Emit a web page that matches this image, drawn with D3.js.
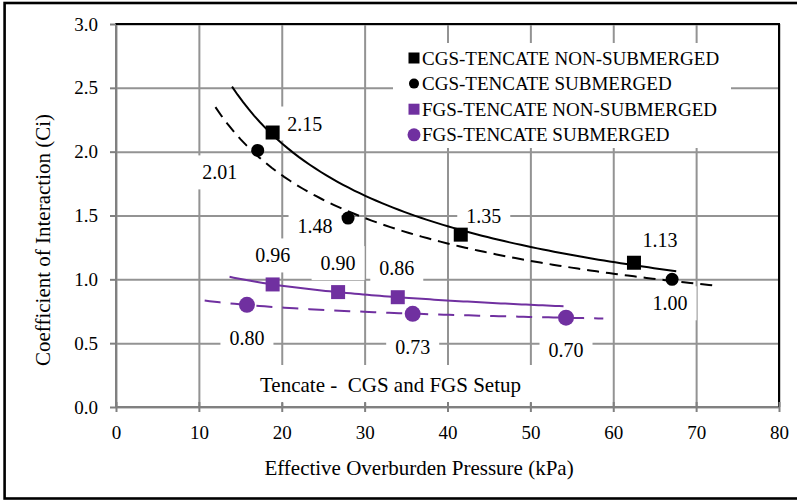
<!DOCTYPE html>
<meta charset="utf-8">
<style>

body {
  margin: 0;
  background: #fff;
}

svg {
  display: block;
  font-family: 'Liberation Serif', 'Times New Roman', serif;
}

.grid line {
  stroke: #939393;
  stroke-width: 2;
}

.grid path, .axis path {
  display: none;
}

.axis line {
  stroke: #808080;
  stroke-width: 2;
}

.axis text {
  font-size: 19px;
  fill: #000;
}

.legend {
  font-size: 19px;
}

.label {
  font-size: 20px;
}

.title {
  font-size: 21px;
}

</style>
<body>
<div id='chart'></div>
<script src="https://cdn.jsdelivr.net/npm/d3@7/dist/d3.min.js"></script>
<script>

// ---- data ----
var cgsNonSubX = [18.9, 41.6, 62.5];
var cgsNonSubY = [2.15, 1.35, 1.13];
var cgsSubX    = [17.1, 28.0, 67.1];
var cgsSubY    = [2.01, 1.48, 1.00];
var fgsNonSubX = [18.9, 26.8, 34.0];
var fgsNonSubY = [0.96, 0.90, 0.86];
var fgsSubX    = [15.8, 35.8, 54.3];
var fgsSubY    = [0.80, 0.73, 0.70];

// trendline extents (kPa)
var cgsNonSubTrend = [14.0, 67.6];
var cgsSubTrend    = [12.0, 72.3];
var fgsNonSubTrend = [13.7, 54.0];
var fgsSubTrend    = [10.7, 58.8];

var seriesNames = ['CGS-TENCATE NON-SUBMERGED', 'CGS-TENCATE SUBMERGED',
                   'FGS-TENCATE NON-SUBMERGED', 'FGS-TENCATE SUBMERGED'];
var xTicks = [0, 10, 20, 30, 40, 50, 60, 70, 80];
var yTicks = [0, 0.5, 1.0, 1.5, 2.0, 2.5, 3.0];

// label offsets from each point, px
var cgsNonSubLab = [[32, -9], [23, -19], [26, -23]];
var cgsSubLab    = [[-38, 22], [-33, 8], [-2, 24]];
var fgsNonSubLab = [[0, -29], [0, -29], [-1, -29]];
var fgsSubLab    = [[0, 33], [0, 33], [0, 32]];

var purple = '#7030a0';

var series = [
  {name: seriesNames[0], xs: cgsNonSubX, ys: cgsNonSubY, trend: cgsNonSubTrend, lab: cgsNonSubLab,
   color: '#000', shape: 'square', size: 14, dash: null},
  {name: seriesNames[1], xs: cgsSubX, ys: cgsSubY, trend: cgsSubTrend, lab: cgsSubLab,
   color: '#000', shape: 'circle', size: 13, dash: '12,7'},
  {name: seriesNames[2], xs: fgsNonSubX, ys: fgsNonSubY, trend: fgsNonSubTrend, lab: fgsNonSubLab,
   color: purple, shape: 'square', size: 14, dash: null},
  {name: seriesNames[3], xs: fgsSubX, ys: fgsSubY, trend: fgsSubTrend, lab: fgsSubLab,
   color: purple, shape: 'circle', size: 16, dash: '16,10'}
];

// power trendline, least squares on logs (what Excel does)
function powerFit(xs, ys) {
  var n = xs.length, sx = 0, sy = 0, sxx = 0, sxy = 0;
  for (var i = 0; i < n; i++) {
    var lx = Math.log(xs[i]), ly = Math.log(ys[i]);
    sx += lx; sy += ly; sxx += lx * lx; sxy += lx * ly;
  }
  var b = (n * sxy - sx * sy) / (n * sxx - sx * sx);
  var a = Math.exp((sy - b * sx) / n);
  return function(x) { return a * Math.pow(x, b); };
}

var W = 797, H = 501;
var pLeft = 116, pRight = 779, pTop = 24, pBottom = 407;

var svg = d3.select('#chart')
            .append('svg')
            .attr('width', W)
            .attr('height', H);

var x = d3.scaleLinear().domain([0, 80]).range([pLeft, pRight]);
var y = d3.scaleLinear().domain([0, 3]).range([pBottom, pTop]);

// outer frame
svg.append('rect')
   .attr('x', 4.6)
   .attr('y', 3)
   .attr('width', 800)
   .attr('height', 495.5)
   .attr('fill', 'none')
   .attr('stroke', '#000')
   .attr('stroke-width', 2.6);

// gridlines
svg.append('g')
   .attr('class', 'grid')
   .attr('transform', 'translate(0,' + pBottom + ')')
   .call(d3.axisBottom(x).tickValues(xTicks).tickSize(-(pBottom - pTop)).tickFormat(''));

svg.append('g')
   .attr('class', 'grid')
   .attr('transform', 'translate(' + pLeft + ',0)')
   .call(d3.axisLeft(y).tickValues(yTicks).tickSize(-(pRight - pLeft)).tickFormat(''));

// legend and title backgrounds sit over the grid
svg.append('rect')
   .attr('x', 393).attr('y', 43)
   .attr('width', 338).attr('height', 105)
   .attr('fill', '#fff');

svg.append('rect')
   .attr('x', 249).attr('y', 365)
   .attr('width', 284).attr('height', 38)
   .attr('fill', '#fff');

svg.append('text')
   .attr('class', 'title')
   .attr('x', 390.5)
   .attr('y', 385)
   .attr('dy', '0.35em')
   .attr('text-anchor', 'middle')
   .style('white-space', 'pre')
   .text('Tencate -  CGS and FGS Setup');

// axis lines
svg.append('line')
   .attr('x1', pLeft).attr('x2', pLeft).attr('y1', pTop).attr('y2', pBottom)
   .attr('stroke', '#808080').attr('stroke-width', 2);
svg.append('line')
   .attr('x1', pLeft).attr('x2', pRight).attr('y1', pBottom).attr('y2', pBottom)
   .attr('stroke', '#808080').attr('stroke-width', 2);
svg.append('line')
   .attr('x1', pLeft - 1).attr('x2', pRight + 1).attr('y1', pTop).attr('y2', pTop)
   .attr('stroke', '#000').attr('stroke-width', 2);
svg.append('line')
   .attr('x1', pRight).attr('x2', pRight).attr('y1', pTop).attr('y2', pBottom)
   .attr('stroke', '#000').attr('stroke-width', 2);

// ticks (crossing the axis) and labels
svg.append('g')
   .attr('class', 'axis')
   .attr('transform', 'translate(0,' + pBottom + ')')
   .call(d3.axisBottom(x).tickValues(xTicks).tickSize(5).tickPadding(14).tickFormat(d3.format('d')));
svg.append('g')
   .attr('class', 'axis')
   .attr('transform', 'translate(0,' + pBottom + ')')
   .call(d3.axisBottom(x).tickValues(xTicks).tickSize(-5).tickFormat(''));

svg.append('g')
   .attr('class', 'axis')
   .attr('transform', 'translate(' + pLeft + ',0)')
   .call(d3.axisLeft(y).tickValues(yTicks).tickSize(6).tickPadding(12).tickFormat(d3.format('.1f')));

svg.selectAll('.axis').attr('font-family', null).attr('font-size', null);

// data labels on white boxes (under the series so marks stay whole)
series.forEach(function(s) {
  s.xs.forEach(function(xv, i) {
    var cx = x(xv) + s.lab[i][0], cy = y(s.ys[i]) + s.lab[i][1];
    var g = svg.append('g');
    var bg = g.append('rect').attr('fill', '#fff');
    var t = g.append('text')
       .attr('class', 'label')
       .attr('x', cx)
       .attr('y', cy)
       .attr('dy', '0.35em')
       .attr('text-anchor', 'middle')
       .text(d3.format('.2f')(s.ys[i]));
    var w = t.node().getBBox().width + 18;
    bg.attr('x', cx - w / 2).attr('y', cy - 17)
      .attr('width', w).attr('height', 34);
  });
});

// trendlines
var line = d3.line()
  .x(function(d) { return x(d[0]); })
  .y(function(d) { return y(d[1]); });

series.forEach(function(s) {
  var f = powerFit(s.xs, s.ys);
  var pts = d3.range(0, 81).map(function(i) {
    var xv = s.trend[0] + (s.trend[1] - s.trend[0]) * i / 80;
    return [xv, f(xv)];
  });
  svg.append('path')
     .datum(pts)
     .attr('d', line)
     .attr('fill', 'none')
     .attr('stroke', s.color)
     .attr('stroke-width', 2)
     .attr('stroke-dasharray', s.dash);
});

// markers
function drawMarker(g, shape, cx, cy, size, color) {
  if (shape === 'square') {
    g.append('rect')
     .attr('x', cx - size / 2).attr('y', cy - size / 2)
     .attr('width', size).attr('height', size)
     .attr('fill', color);
  } else {
    g.append('circle')
     .attr('cx', cx).attr('cy', cy)
     .attr('r', size / 2)
     .attr('fill', color);
  }
}

series.forEach(function(s) {
  s.xs.forEach(function(xv, i) {
    drawMarker(svg, s.shape, x(xv), y(s.ys[i]), s.size, s.color);
  });
});

// legend
var legendSizes = [11, 10, 11, 13];
series.forEach(function(s, i) {
  var ly = 58 + i * 25.6;
  drawMarker(svg, s.shape, 414, ly, legendSizes[i], s.color);
  svg.append('text')
     .attr('class', 'legend')
     .attr('x', 422)
     .attr('y', ly)
     .attr('dy', '0.35em')
     .text(s.name);
});

// axis titles
svg.append('text')
   .attr('class', 'title')
   .attr('x', 419)
   .attr('y', 468)
   .attr('dy', '0.35em')
   .attr('text-anchor', 'middle')
   .text('Effective Overburden Pressure (kPa)');

svg.append('text')
   .attr('class', 'title')
   .attr('transform', 'translate(43,240) rotate(-90)')
   .attr('dy', '0.35em')
   .attr('text-anchor', 'middle')
   .text('Coefficient of Interaction (Ci)');

</script>
</body>
